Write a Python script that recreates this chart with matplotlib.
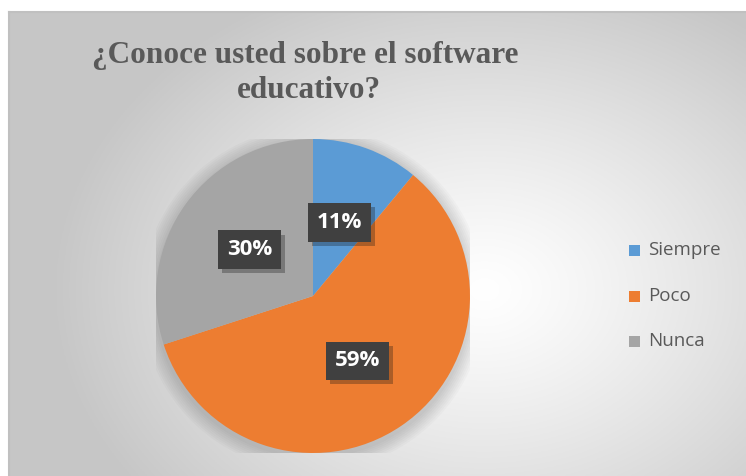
import numpy as np
import matplotlib
matplotlib.use("Agg")
import matplotlib.pyplot as plt
import matplotlib.patheffects as pe

categories = ["Siempre", "Poco", "Nunca"]
values = [11, 59, 30]
colors = ["#5B9BD5", "#ED7D31", "#A5A5A5"]
title_lines = ["¿Conoce usted sobre el software", "educativo?"]

W, H = 746, 476
fig = plt.figure(figsize=(W / 100, H / 100), dpi=100)
fig.patch.set_facecolor("white")

# background radial gradient for chart area
x0, y0 = 9, 12
bg = fig.add_axes([x0 / W, 0, (W - x0) / W, (H - y0) / H])
bg.set_axis_off()
nx, ny = 400, 260
xs = np.linspace(x0, W, nx)
ys = np.linspace(y0, H, ny)
X, Y = np.meshgrid(xs, ys)
cx, cy = 485, 290
r = np.sqrt(((X - cx) / 430) ** 2 + ((Y - cy) / 330) ** 2)
r = np.clip(r, 0, 1)
val = 1.0 - 0.22 * r ** 1.2
img = np.dstack([val, val, val])
bg.imshow(img, extent=[0, 1, 0, 1], aspect="auto", origin="upper")
bg.set_xlim(0, 1)
bg.set_ylim(0, 1)
bg.plot([0, 0], [0, 1], color="#c0c0c0", lw=1.5, transform=bg.transAxes, clip_on=False)
bg.plot([0, 1], [1, 1], color="#c0c0c0", lw=1.5, transform=bg.transAxes, clip_on=False)

# pie
pcx, pcy, pr = 313, 296, 157
ax = fig.add_axes([(pcx - pr) / W, (H - pcy - pr) / H, 2 * pr / W, 2 * pr / H])
ax.set_aspect("equal")
ax.set_axis_off()

# soft shadow
for k in range(8):
    sh = plt.Circle((0.0, -0.02), 1.0 + 0.012 * (k + 1), color="black",
                    alpha=0.018, lw=0, zorder=0)
    ax.add_patch(sh)

wedges, texts, autotexts = ax.pie(
    values, colors=colors, startangle=90, counterclock=False,
    autopct=lambda p: f"{p:.0f}%", pctdistance=0.5,
    wedgeprops=dict(linewidth=0),
    textprops=dict(color="white", fontsize=16, fontweight="bold",
                   family=["Open Sans", "DejaVu Sans"]),
)
for w in wedges:
    w.set_zorder(2)
for t in autotexts:
    t.set_zorder(5)
    t.set_bbox(dict(boxstyle="square,pad=0.4", facecolor="#404040",
                    edgecolor="none", linewidth=0))
    t.get_bbox_patch().set_path_effects([pe.SimplePatchShadow(offset=(3, -3), alpha=0.3), pe.Normal()])
ax.set_xlim(-1, 1)
ax.set_ylim(-1, 1)

# title
fig.text(305 / W, 1 - 63 / H, title_lines[0], ha="center", va="baseline", fontsize=22.5,
         fontweight="bold", family="Liberation Serif", color="#595959")
fig.text(309 / W, 1 - 98 / H, title_lines[1], ha="center", va="baseline", fontsize=22.5,
         fontweight="bold", family="Liberation Serif", color="#595959")

# legend
leg_y = [250, 296, 341]
for c, lab, yy in zip(colors, categories, leg_y):
    fig.patches.append(plt.Rectangle((629 / W, 1 - (yy + 5.5) / H), 11 / W, 11 / H,
                                     facecolor=c, edgecolor="none",
                                     transform=fig.transFigure, figure=fig))
    fig.text(648 / W, 1 - yy / H, lab, ha="left", va="center", fontsize=13.5,
             family=["Open Sans", "DejaVu Sans"], color="#595959")

fig.savefig("out.png", dpi=100)
